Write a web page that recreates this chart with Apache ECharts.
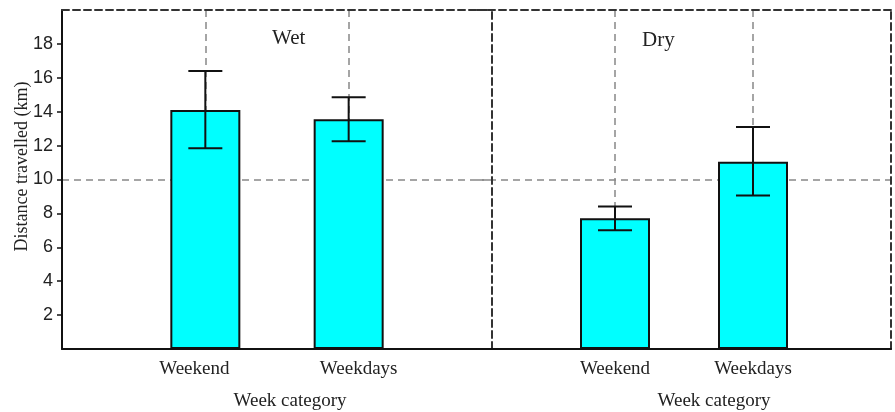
<!DOCTYPE html>
<html>
<head>
<meta charset="utf-8">
<script src="https://cdn.jsdelivr.net/npm/echarts@6/dist/echarts.min.js"></script>
<style>html,body{margin:0;padding:0;background:#fff}#c{width:895px;height:412px}</style>
</head>
<body>
<div id="c"></div>
<script>
const categories = ['', 'Weekend', 'Weekdays', ''];
const wetMean  = [null, 14.1, 13.55, null];
const wetUpper = [null, 16.4, 14.85, null];
const wetLower = [null, 11.85, 12.25, null];
const dryMean  = [null, 7.72, 11.05, null];
const dryUpper = [null, 8.4, 13.1, null];
const dryLower = [null, 7.0, 9.05, null];
const yTicks = [2, 4, 6, 8, 10, 12, 14, 16, 18];
const panelTitles = ['Wet', 'Dry'];
const xName = 'Week category';
const yName = 'Distance travelled (km)';

const serif = '"Liberation Serif","Times New Roman",serif';
const sans = '"Liberation Sans",Arial,sans-serif';
const txt = '#222';
const dashBorder = {show: true, onZero: false, lineStyle: {color: '#333', width: 2, type: [7, 4]}};
const gridDash = {show: true, lineStyle: {color: '#888', width: 1.5, type: [7, 5]}};

function errData(up, lo) {
  const out = [];
  up.forEach((v, i) => { if (v != null) out.push([i, v, lo[i]]); });
  return out;
}
function renderErr(params, api) {
  const x = api.value(0);
  const p1 = api.coord([x, api.value(1)]);
  const p2 = api.coord([x, api.value(2)]);
  const w = 17;
  const st = {stroke: '#111', lineWidth: 2};
  return {type: 'group', children: [
    {type: 'line', shape: {x1: p1[0], y1: p1[1], x2: p2[0], y2: p2[1]}, style: st},
    {type: 'line', shape: {x1: p1[0] - w, y1: p1[1], x2: p1[0] + w, y2: p1[1]}, style: st},
    {type: 'line', shape: {x1: p2[0] - w, y1: p2[1], x2: p2[0] + w, y2: p2[1]}, style: st}
  ]};
}
function bottomAxis(grid, leftShift, namePad) {
  const fs = 19;
  return {
    type: 'category', gridIndex: grid, position: 'bottom', data: categories, boundaryGap: false,
    axisLine: {onZero: false, lineStyle: {color: '#111', width: 2}},
    axisTick: {show: false},
    axisLabel: {
      interval: 0, margin: 11, color: txt, fontFamily: serif, fontSize: fs,
      formatter: (v) => v === '' ? '' : (leftShift ? (v === 'Weekend' ? '{a|' + v + '}' : '{b|' + v + '}') : v),
      rich: {a: {fontFamily: serif, fontSize: fs, color: txt, padding: [0, 22, 0, 0]},
             b: {fontFamily: serif, fontSize: fs, color: txt, padding: [0, 0, 0, 20]}}
    },
    splitLine: Object.assign({interval: (i) => i === 1 || i === 2}, gridDash),
    name: xName, nameLocation: 'middle', nameGap: 43,
    nameTextStyle: {fontFamily: serif, fontSize: 19, color: txt, padding: [0, 0, 0, namePad]}
  };
}
function topAxis(grid) {
  return {type: 'category', gridIndex: grid, position: 'top', data: categories, boundaryGap: false,
    axisLine: dashBorder, axisTick: {show: false}, axisLabel: {show: false}, splitLine: {show: false}};
}
function rightAxis(grid) {
  return {type: 'value', gridIndex: grid, position: 'right', min: 0, max: 20, interval: 10,
    axisLine: dashBorder, axisTick: {show: false}, axisLabel: {show: false},
    splitLine: {show: true, lineStyle: {color: ['rgba(0,0,0,0)', '#888', 'rgba(0,0,0,0)'], width: 1.5, type: [7, 5]}}};
}

const option = {
  animation: false,
  backgroundColor: '#fff',
  title: [
    {text: panelTitles[0], left: 267, top: 23, textStyle: {fontFamily: serif, fontSize: 21, fontWeight: 'normal', color: txt}},
    {text: panelTitles[1], left: 637, top: 25, textStyle: {fontFamily: serif, fontSize: 21, fontWeight: 'normal', color: txt}}
  ],
  grid: [
    {left: 62, top: 10, width: 430, height: 339, outerBoundsMode: 'none', containLabel: false},
    {left: 477, top: 10, width: 414, height: 339, outerBoundsMode: 'none', containLabel: false}
  ],
  xAxis: [bottomAxis(0, true, 26), topAxis(0), bottomAxis(1, false, 60), topAxis(1)],
  yAxis: [
    {type: 'value', gridIndex: 0, position: 'left', min: 0, max: 20, interval: 2,
      axisLine: {show: true, onZero: false, lineStyle: {color: '#111', width: 2}},
      axisTick: {show: true, length: 5, customValues: yTicks, lineStyle: {color: '#111', width: 1.5}},
      axisLabel: {customValues: yTicks, margin: 9, color: txt, fontFamily: sans, fontSize: 18},
      splitLine: {show: false},
      name: yName, nameLocation: 'middle', nameGap: 31, nameMoveOverlap: false,
      nameTextStyle: {fontFamily: serif, fontSize: 18, color: txt, padding: [0, 0, 0, 26]}},
    rightAxis(0),
    rightAxis(1)
  ],
  series: [
    {type: 'bar', xAxisIndex: 0, yAxisIndex: 0, data: wetMean, barWidth: 70,
      itemStyle: {color: '#00FFFF', borderColor: '#111', borderWidth: 2}, z: 3},
    {type: 'custom', xAxisIndex: 0, yAxisIndex: 0, data: errData(wetUpper, wetLower),
      renderItem: renderErr, encode: {x: 0, y: [1, 2]}, z: 5},
    {type: 'bar', xAxisIndex: 2, yAxisIndex: 2, data: dryMean, barWidth: 70,
      itemStyle: {color: '#00FFFF', borderColor: '#111', borderWidth: 2}, z: 3},
    {type: 'custom', xAxisIndex: 2, yAxisIndex: 2, data: errData(dryUpper, dryLower),
      renderItem: renderErr, encode: {x: 0, y: [1, 2]}, z: 5}
  ]
};
echarts.init(document.getElementById('c')).setOption(option);
</script>
</body>
</html>
